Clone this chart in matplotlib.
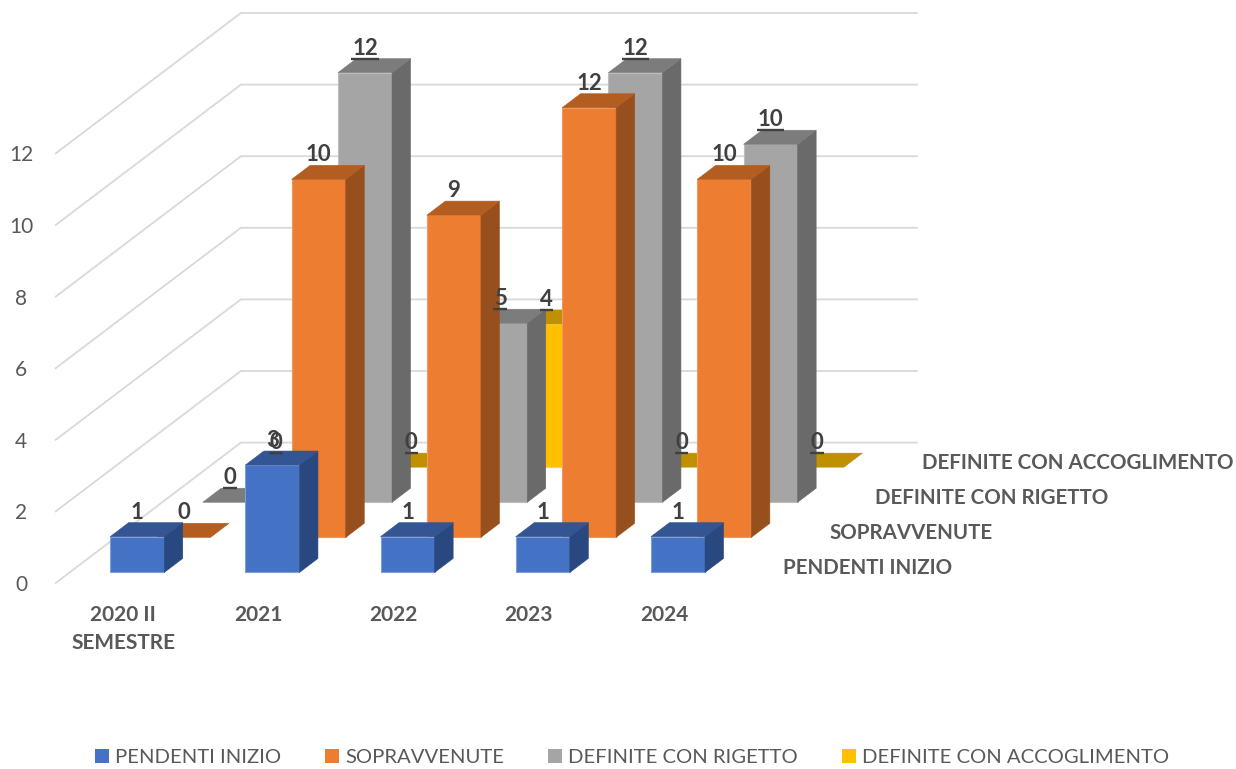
import matplotlib
matplotlib.use('Agg')
import matplotlib.pyplot as plt
from matplotlib.patches import Patch

plt.rcParams['font.family'] = ['Lato', 'DejaVu Sans']

categories = ['2020 II\nSEMESTRE', '2021', '2022', '2023', '2024']
series_names = ['PENDENTI INIZIO', 'SOPRAVVENUTE', 'DEFINITE CON RIGETTO', 'DEFINITE CON ACCOGLIMENTO']

pendenti = [1, 3, 1, 1, 1]
sopravvenute = [0, 10, 9, 12, 10]
rigetto = [0, 12, 5, 12, 10]
accoglimento = [0, 0, 4, 0, 0]
all_series = [pendenti, sopravvenute, rigetto, accoglimento]

value_ticks = [0, 2, 4, 6, 8, 10, 12]

# front, top, side colours for each series
front_col = ['#4472C4', '#ED7D31', '#A5A5A5', '#FFC000']
top_col = ['#335593', '#B35D21', '#7C7C7C', '#BF9000']
side_col = ['#2A4880', '#97501D', '#6A6A6A', '#A07800']
edge_col = ['#7F9FD9', '#F09A5E', '#BDBDBD', '#FFD24D']

# pixel sizes of the oblique view
W, H = 1236, 769
x0, y0 = 55.7, 583.0
cat_px, val_px = 135.2, 35.8
dz_x, dz_y = 46.3, 35.1
gap = 0.3
bar_w = 0.4
txt = '#595959'
lab = '#404040'


# x = category position, y = value, z = series position going backwards
def pr(x, y, z):
    return x + z*dz_x/cat_px, y + z*dz_y/val_px


fig = plt.figure(figsize=(W/100, H/100), dpi=100)
ax = fig.add_axes([0, 0, 1, 1])
ax.set_xlim(-x0/cat_px, (W-x0)/cat_px)
ax.set_ylim((y0-H)/val_px, y0/val_px)
for s in ax.spines.values():
    s.set_visible(False)

# walls
for v in value_ticks:
    a = pr(0, v, 0)
    b = pr(0, v, 4)
    c = pr(5, v, 4)
    ax.plot([a[0], b[0], c[0]], [a[1], b[1], c[1]], color='#D9D9D9', lw=1.3, zorder=1)

ax.set_yticks(value_ticks)
ax.set_yticklabels([str(v) for v in value_ticks], ha='center', color=txt, fontsize=15)
ax.tick_params(axis='y', length=0, pad=-21*0.72)
ax.set_xticks([i+0.5 for i in range(len(categories))])
ax.set_xticklabels(categories, color=txt, fontsize=15, fontweight='bold', linespacing=1.5)
ax.tick_params(axis='x', length=0, pad=-(H-605)*0.72)

# bars, back series first
for s in range(3, -1, -1):
    for c, val in enumerate(all_series[s]):
        xa, xb = c+gap, c+gap+bar_w
        za, zb = s+gap, s+gap+bar_w
        if val > 0:
            pts = [pr(xa, 0, za), pr(xb, 0, za), pr(xb, val, za), pr(xa, val, za)]
            ax.fill(*zip(*pts), facecolor=front_col[s], edgecolor=edge_col[s], lw=0.8, zorder=2)
            pts = [pr(xb, 0, za), pr(xb, 0, zb), pr(xb, val, zb), pr(xb, val, za)]
            ax.fill(*zip(*pts), facecolor=side_col[s], edgecolor=side_col[s], lw=0.4, zorder=2)
        pts = [pr(xa, val, za), pr(xb, val, za), pr(xb, val, zb), pr(xa, val, zb)]
        ax.fill(*zip(*pts), facecolor=top_col[s], edgecolor=top_col[s], lw=0.4, zorder=2)

# value labels
for s in range(4):
    for c, val in enumerate(all_series[s]):
        u, v = pr(c+gap+bar_w/2, val, s+gap+bar_w)
        u = pr(c+gap+bar_w/2, val, s+gap)[0]
        ax.annotate(str(val), xy=(u, v), xytext=(0, 4*0.72), textcoords='offset points',
                    ha='center', va='baseline', color=lab, fontsize=16, fontweight='bold', zorder=5)
        if s >= 2:
            half = 0.05*len(str(val))
            ax.plot([u-half, u+half], [v, v], color=lab, lw=1.7, zorder=5, solid_capstyle='butt')

# series names on the depth axis
for s, name in enumerate(series_names):
    u, v = pr(5.207, 0, s+0.5)
    ax.annotate(name, xy=(u, v), xytext=(0, -3*0.72), textcoords='offset points',
                ha='left', va='center', color=txt, fontsize=14.75, fontweight='bold')

handles = [Patch(facecolor=front_col[i], label=series_names[i]) for i in range(4)]
ax.legend(handles=handles, loc='lower center', bbox_to_anchor=(632/W, -0.012), ncol=4, frameon=False,
          handlelength=0.69, handleheight=0.69, handletextpad=0.3, columnspacing=2.17,
          labelcolor=txt, fontsize=14.6, borderaxespad=0.2)

fig.savefig('out.png', dpi=100)
